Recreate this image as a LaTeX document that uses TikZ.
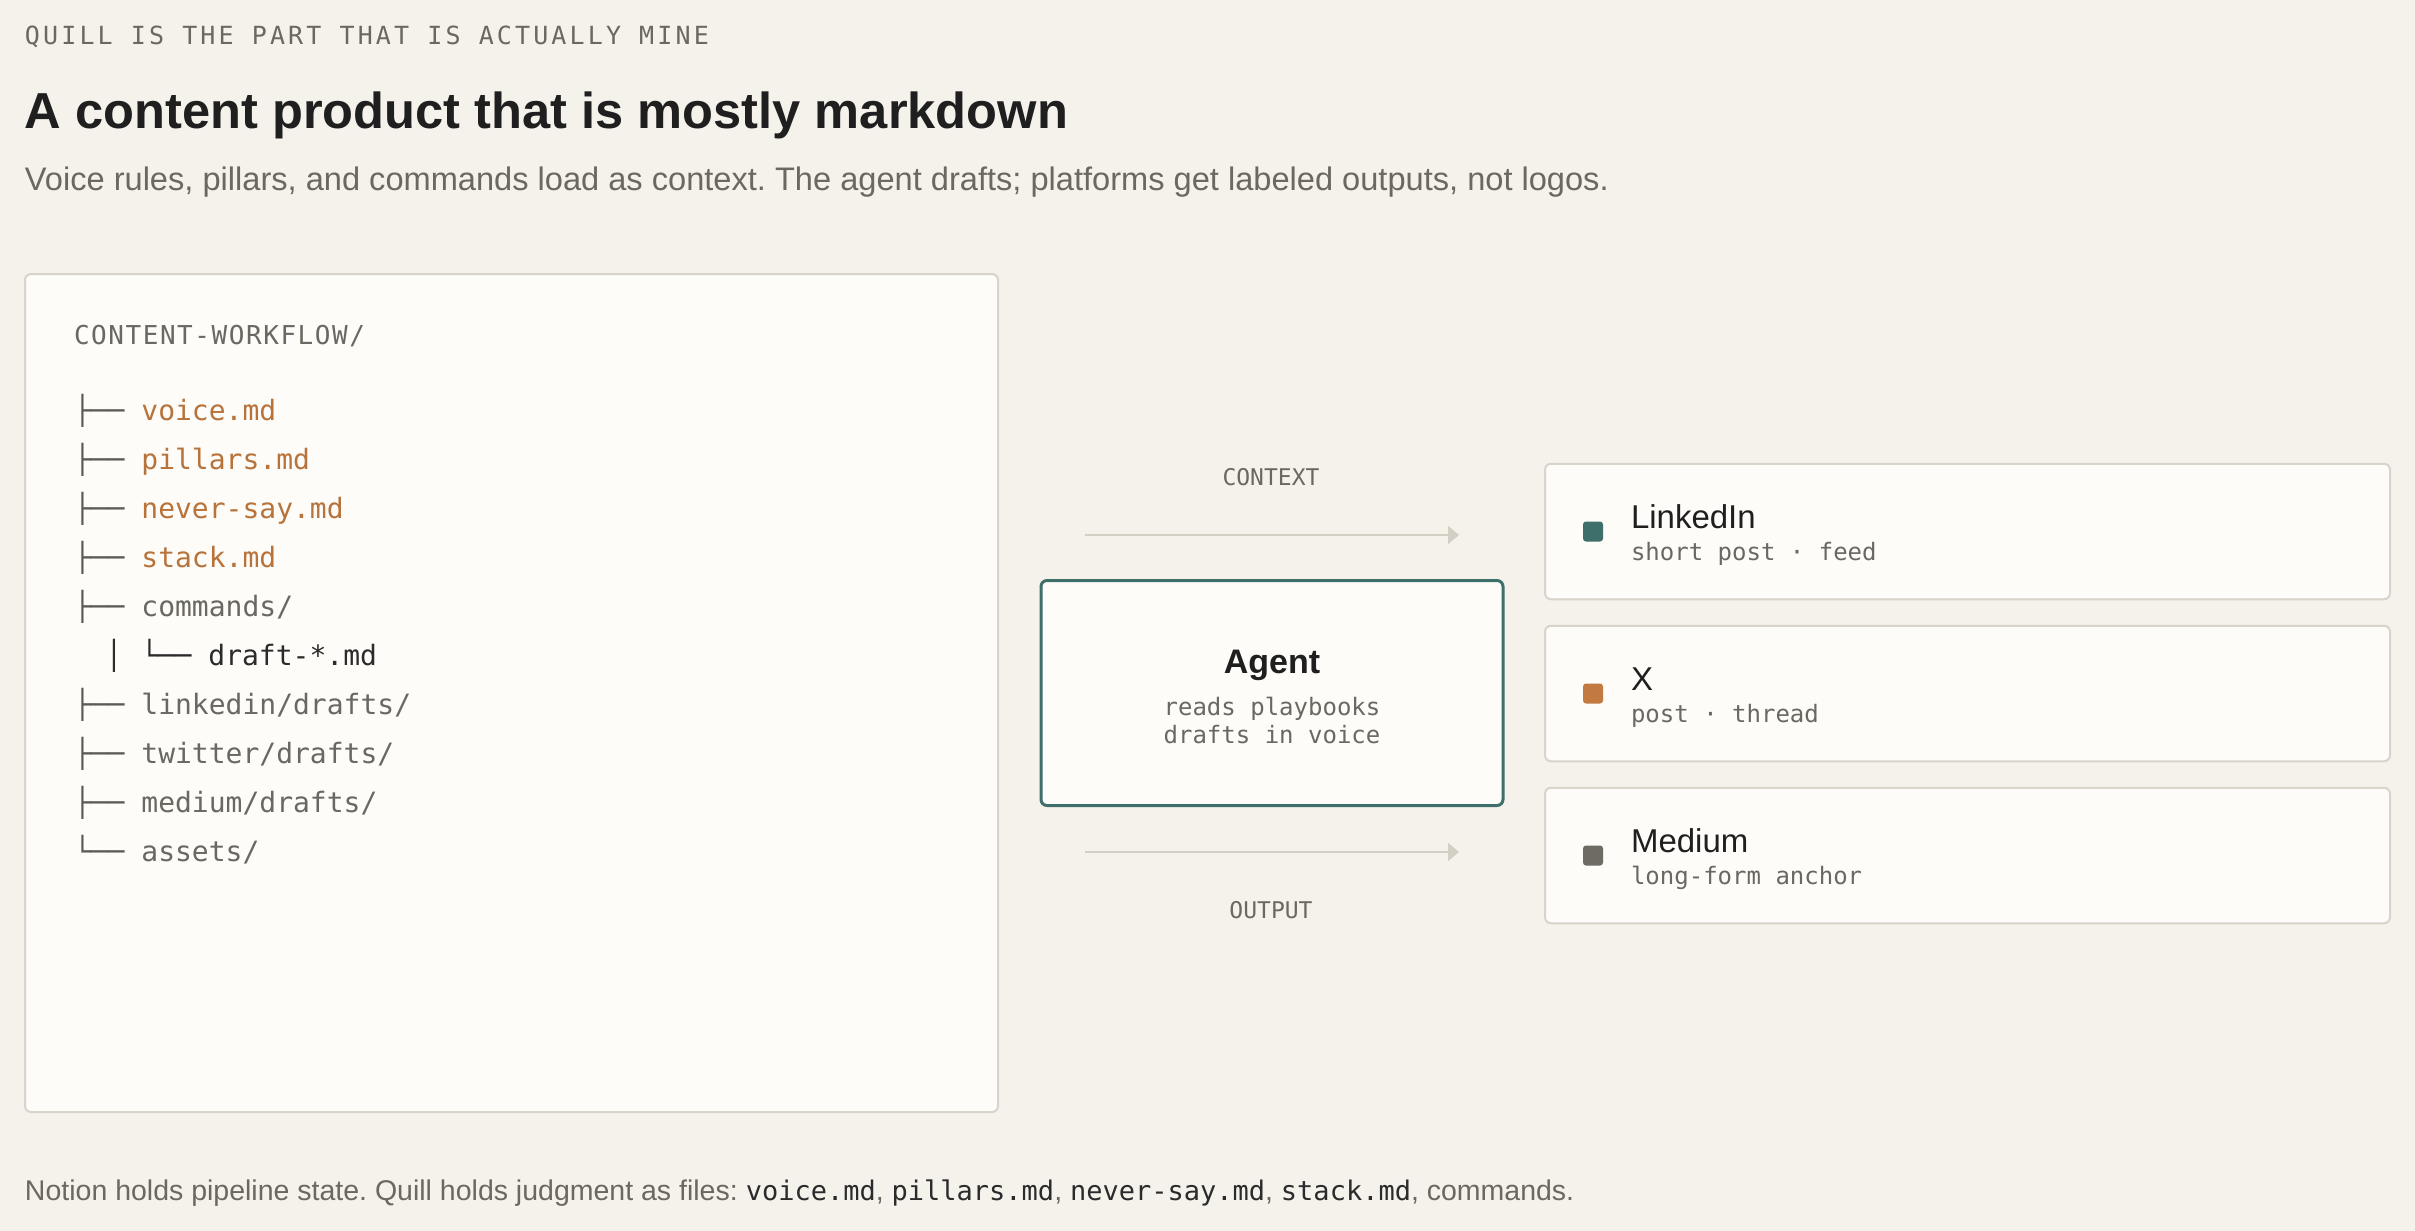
\documentclass[tikz,border=0pt]{standalone}
\usepackage{fontspec}
\setmainfont{Liberation Sans}
\newfontfamily\monof{DejaVu Sans Mono}
\newfontfamily\monotrack[LetterSpace=6]{DejaVu Sans Mono}
\newfontfamily\monoeyebrow[LetterSpace=12.5]{DejaVu Sans Mono}
\usetikzlibrary{arrows.meta}
\definecolor{bg}{HTML}{F5F2EC}
\definecolor{panel}{HTML}{FDFCF8}
\definecolor{border}{HTML}{D9D4CA}
\definecolor{teal}{HTML}{3F6F6B}
\definecolor{orangetxt}{HTML}{B8733B}
\definecolor{orangemk}{HTML}{C27A40}
\definecolor{graymk}{HTML}{6E6A64}
\definecolor{graytxt}{HTML}{6B6761}
\definecolor{treegray}{HTML}{5E5A55}
\definecolor{darktxt}{HTML}{1F1F1F}
\definecolor{codedark}{HTML}{2B2B2B}
\definecolor{arrowc}{HTML}{D4CFC5}
\newcommand\fcode[1]{{\monof\fontsize{13.5}{16}\selectfont\color{codedark}#1}}
\frenchspacing
\begin{document}
\begin{tikzpicture}[x=0.5pt,y=-0.5pt,
  txt/.style={inner sep=0pt, outer sep=0pt, anchor=base west},
  ctxt/.style={inner sep=0pt, outer sep=0pt, anchor=base},
  treerow/.style={txt, font=\monof\fontsize{14}{17}\selectfont, text=graytxt},
  panelbox/.style={draw=border, fill=panel, line width=1pt, rounded corners=3pt, inner sep=0pt},
  agentbox/.style={draw=teal, fill=panel, line width=1.5pt, rounded corners=3pt, inner sep=0pt,
    minimum width=231pt, minimum height=112.5pt},
  cardbox/.style={draw=border, fill=panel, line width=1pt, rounded corners=3pt, inner sep=0pt,
    minimum width=422.5pt, minimum height=67.75pt},
  marker/.style={inner sep=0pt, minimum size=10pt, rounded corners=1.5pt},
  cardtitle/.style={txt, font=\fontsize{16.5}{20}\selectfont, text=darktxt},
  cardsub/.style={txt, font=\monof\fontsize{12}{14}\selectfont, text=graytxt},
  flowlabel/.style={ctxt, font=\monof\fontsize{11.5}{14}\selectfont, text=graytxt},
  flow/.style={draw=arrowc, line width=1pt, -{Triangle[length=5.5pt,width=9pt]}}
]
\path[fill=bg] (0,0) rectangle (2415,1231);
\useasboundingbox (0,0) rectangle (2415,1231);

% header
\node[txt, font=\monoeyebrow\fontsize{12.5}{15}\selectfont, text=graytxt] (eyebrow) at (25,44) {QUILL IS THE PART THAT IS ACTUALLY MINE};
\node[txt, font=\bfseries\fontsize{25.3}{30}\selectfont, text=darktxt] (title) at (25,128) {A content product that is mostly markdown};
\node[txt, font=\fontsize{16.3}{20}\selectfont, text=graytxt] (subtitle) at (25,190) {Voice rules, pillars, and commands load as context. The agent drafts; platforms get labeled outputs, not logos.};

% left panel
\node[panelbox, minimum width=486.5pt, minimum height=419pt] (panel) at (511.5,693) {};
\node[txt, font=\monotrack\fontsize{13}{16}\selectfont, text=graytxt] (root) at (74,344) {CONTENT-WORKFLOW/};
\node[treerow] (t1) at (74,420) {{\color{treegray}├──} {\color{orangetxt}voice.md}};
\node[treerow] (t2) at (74,469) {{\color{treegray}├──} {\color{orangetxt}pillars.md}};
\node[treerow] (t3) at (74,518) {{\color{treegray}├──} {\color{orangetxt}never-say.md}};
\node[treerow] (t4) at (74,567) {{\color{treegray}├──} {\color{orangetxt}stack.md}};
\node[treerow] (t5) at (74,616) {{\color{treegray}├──} commands/};
\node[ctxt, font=\monof\fontsize{14}{17}\selectfont, text=codedark] (t6bar) at (114,665) {│};
\node[treerow, text=codedark] (t6) at (141,665) {└── draft-*.md};
\node[treerow] (t7) at (74,714) {{\color{treegray}├──} linkedin/drafts/};
\node[treerow] (t8) at (74,763) {{\color{treegray}├──} twitter/drafts/};
\node[treerow] (t9) at (74,812) {{\color{treegray}├──} medium/drafts/};
\node[treerow] (t10) at (74,861) {{\color{treegray}└──} assets/};

% flow labels and arrows
\node[flowlabel] (ctxlabel) at (1271,485) {CONTEXT};
\coordinate (ctxA) at (1085,535);
\coordinate (ctxB) at (1459,535);
\draw[flow] (ctxA) -- (ctxB);
\coordinate (outA) at (1085,852);
\coordinate (outB) at (1459,852);
\draw[flow] (outA) -- (outB);
\node[flowlabel] (outlabel) at (1271,918) {OUTPUT};

% agent
\node[agentbox] (agent) at (1272,693) {};
\node[ctxt, font=\bfseries\fontsize{17}{20}\selectfont, text=darktxt] (agentname) at (1272,673) {Agent};
\node[ctxt, font=\monof\fontsize{12}{14}\selectfont, text=graytxt] (agentl1) at (1272,715.5) {reads playbooks};
\node[ctxt, font=\monof\fontsize{12}{14}\selectfont, text=graytxt] (agentl2) at (1272,743) {drafts in voice};

% cards
\node[cardbox] (card1) at (1967.5,531.5) {};
\node[marker, fill=teal] (m1) at (1593,531.5) {};
\node[cardtitle] (c1t) at (1631,528) {LinkedIn};
\node[cardsub] (c1s) at (1631,560) {short post · feed};

\node[cardbox] (card2) at (1967.5,693.5) {};
\node[marker, fill=orangemk] (m2) at (1593,693.5) {};
\node[cardtitle] (c2t) at (1631,690) {X};
\node[cardsub] (c2s) at (1631,722) {post · thread};

\node[cardbox] (card3) at (1967.5,855.5) {};
\node[marker, fill=graymk] (m3) at (1593,855.5) {};
\node[cardtitle] (c3t) at (1631,852) {Medium};
\node[cardsub] (c3s) at (1631,884) {long-form anchor};

% footer
\node[txt, font=\fontsize{14.25}{17}\selectfont, text=graytxt] (footer) at (25,1200) {Notion holds pipeline state. Quill holds judgment as files: \fcode{voice.md}, \fcode{pillars.md}, \fcode{never-say.md}, \fcode{stack.md}, commands.};
\end{tikzpicture}
\end{document}
